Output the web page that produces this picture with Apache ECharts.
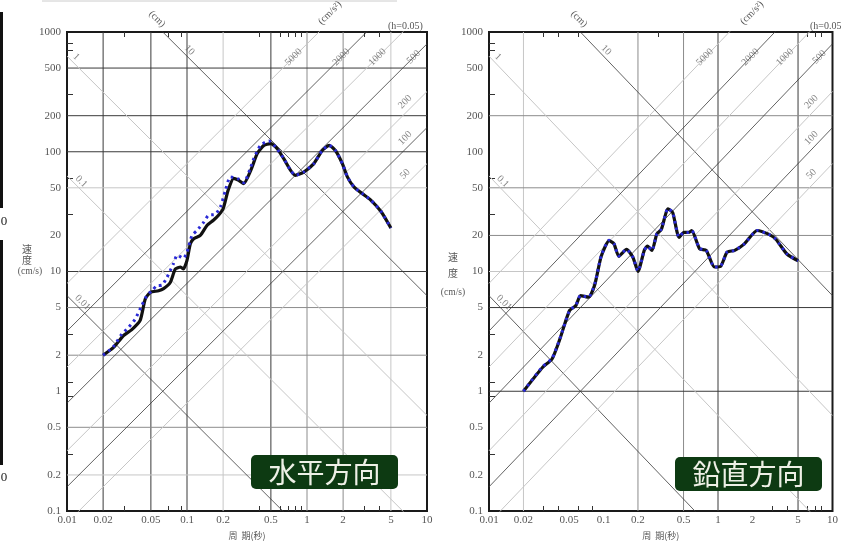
<!DOCTYPE html>
<html>
<head>
<meta charset="utf-8">
<script src="https://cdn.jsdelivr.net/npm/echarts@6/dist/echarts.min.js"></script>
<style>
  html, body { margin: 0; padding: 0; background: #fff; }
  #main { width: 841px; height: 547px; }
</style>
</head>
<body>
<div id="main"></div>
<script>
// ---- axis values ----
var periodLabels = [0.01, 0.02, 0.05, 0.1, 0.2, 0.5, 1, 2, 5, 10];
var velocityLabels = [0.1, 0.2, 0.5, 1, 2, 5, 10, 20, 50, 100, 200, 500, 1000];

// tripartite lines: displacement (cm) and acceleration (cm/s2)
var dispDark = [0.01, 10];
var dispLight = [0.1, 1];
var accDark = [2000, 500, 100];
var accLight = [5000, 1000, 200, 50];
var accTopLabels = [5000, 2000, 1000, 500];
var accSideLabels = [200, 100, 50];
var dispLabels = [1, 10, 0.1, 0.01];

// grid lines, 水平方向 panel
var hVDark = [0.02, 0.05, 0.1, 0.5];
var hVMid = [1, 2];
var hVLight = [0.2, 5];
var hHDark = [500, 200, 100, 10];
var hHMid = [5, 2, 0.5];
var hHLight = [50, 0.2];

// grid lines, 鉛直方向 panel
var vVDark = [1, 5];
var vVMid = [0.2, 0.5];
var vVLight = [0.02];
var vHDark = [5, 1];
var vHMid = [200, 50, 20];
var vHLight = [10];

// minor ticks
var hTicksBottom = [0.03, 0.07, 0.09, 0.4, 0.6, 0.7, 0.8, 0.9, 3, 4];
var vTicksBottom = [0.03, 0.04, 0.06, 0.08, 3, 4, 6, 7, 8];
var hTicksTop = [0.03, 0.07, 0.09, 0.4, 0.6, 0.7, 0.8, 0.9, 3, 4];
var vTicksTop = [0.03, 0.04, 0.06, 0.3, 6, 7, 8];
var yTicks = [800, 700, 300, 60, 30, 3, 1.2, 0.9, 0.3];

// ---- spectra (period s, velocity cm/s) ----
var hPeriod = [0.02, 0.0243, 0.0296, 0.0347, 0.0407, 0.0449, 0.0495, 0.058, 0.0638, 0.0725, 0.08, 0.0884, 0.0934, 0.1, 0.1066, 0.1136, 0.129, 0.147, 0.166, 0.183, 0.2, 0.22, 0.245, 0.27, 0.297, 0.34, 0.385, 0.437, 0.497, 0.565, 0.64, 0.73, 0.8, 0.94, 1.14, 1.34, 1.53, 1.73, 1.97, 2.17, 2.47, 2.9, 3.4, 4.14, 5.0];
var hSolid = [2.0, 2.31, 2.92, 3.27, 3.9, 5.9, 6.7, 6.9, 7.2, 8.1, 10.5, 10.9, 10.5, 12.4, 17.0, 18.8, 20, 24.3, 26.8, 29.5, 33.4, 47.6, 60, 57.6, 54.2, 70, 96.5, 113, 117, 106, 87.6, 70, 63.6, 67.7, 79.6, 102.5, 113, 102, 79.6, 61.7, 50.6, 44.6, 39.5, 31.7, 23.1];
var hDotPeriod = [0.02, 0.0243, 0.0286, 0.0325, 0.037, 0.042, 0.0463, 0.051, 0.056, 0.062, 0.068, 0.077, 0.083, 0.0934, 0.1, 0.11, 0.121, 0.138, 0.151, 0.172, 0.19, 0.209, 0.23, 0.27, 0.297, 0.34, 0.36, 0.41, 0.48, 0.546, 0.64, 0.73, 0.8, 0.94, 1.14, 1.34, 1.53, 1.73, 1.97, 2.17, 2.47, 2.9, 3.4, 4.14, 5.0];
var hDotted = [2.0, 2.35, 3.0, 3.4, 4.0, 5.2, 6.3, 6.9, 7.6, 7.7, 8.9, 11.6, 13.7, 12.9, 14.5, 20, 22, 25.8, 29.5, 30, 34.6, 47.6, 61.7, 59, 55, 74.6, 87.6, 113, 123, 110, 87.6, 70, 63.6, 67.7, 79.6, 102.5, 113, 102, 79.6, 61.7, 50.6, 44.6, 39.5, 31.7, 23.1];

var vPeriod = [0.02, 0.0293, 0.0355, 0.0416, 0.0504, 0.0574, 0.063, 0.074, 0.084, 0.0955, 0.112, 0.1235, 0.136, 0.159, 0.181, 0.2, 0.227, 0.242, 0.265, 0.292, 0.32, 0.366, 0.402, 0.457, 0.504, 0.555, 0.59, 0.69, 0.79, 0.93, 1.05, 1.2, 1.4, 1.7, 2.2, 2.76, 3.2, 4.0, 5.0];
var vSolid = [1.0, 1.58, 1.86, 2.73, 4.7, 5.2, 6.3, 6.1, 7.8, 13.4, 18.1, 17.0, 13.4, 15.3, 13.1, 10.0, 15.0, 16.3, 15.0, 20.5, 22.5, 33.4, 31.1, 19.3, 21.2, 21.2, 22, 15.5, 15.0, 10.9, 11.0, 14.5, 15.0, 17.0, 22, 20.5, 18.6, 14.0, 12.3];
var vDotted = [1.0, 1.6, 1.88, 2.75, 4.7, 5.25, 6.3, 6.1, 7.9, 13.5, 18.2, 17.0, 13.5, 15.3, 13.1, 10.1, 15.0, 16.3, 15.0, 20.6, 22.6, 33.6, 31.1, 19.4, 21.2, 21.2, 22, 15.6, 15.0, 10.9, 11.0, 14.5, 15.0, 17.0, 22, 20.5, 18.6, 14.0, 12.3];

var DARK = '#3a3a3a', MID = '#8c8c8c', LIGHT = '#c6c6c6';
var TWO_PI = 2 * Math.PI;
var SERIF = '"Liberation Serif", "DejaVu Serif", serif';
var CJK = '"Noto Sans CJK JP", sans-serif';

function zip(xs, ys) { return xs.map(function (x, i) { return [x, ys[i]]; }); }

function plain(gi, data, color, width, z) {
  return {
    type: 'line', xAxisIndex: gi, yAxisIndex: gi, data: data, symbol: 'none',
    silent: true, animation: false, z: z,
    lineStyle: { color: color, width: width }
  };
}

function panelSeries(gi, g) {
  var s = [];
  g.vDark.forEach(function (v) { s.push(plain(gi, [[v, 0.1], [v, 1000]], DARK, 1, 1)); });
  g.vMid.forEach(function (v) { s.push(plain(gi, [[v, 0.1], [v, 1000]], MID, 1, 1)); });
  g.vLight.forEach(function (v) { s.push(plain(gi, [[v, 0.1], [v, 1000]], LIGHT, 1, 1)); });
  g.hDark.forEach(function (v) { s.push(plain(gi, [[0.01, v], [10, v]], DARK, 1, 1)); });
  g.hMid.forEach(function (v) { s.push(plain(gi, [[0.01, v], [10, v]], MID, 1, 1)); });
  g.hLight.forEach(function (v) { s.push(plain(gi, [[0.01, v], [10, v]], LIGHT, 1, 1)); });
  // SV = 2*pi*D/T  and  SV = A*T/(2*pi)
  dispDark.forEach(function (d) { s.push(plain(gi, [[0.01, TWO_PI * d / 0.01], [10, TWO_PI * d / 10]], DARK, 0.8, 2)); });
  dispLight.forEach(function (d) { s.push(plain(gi, [[0.01, TWO_PI * d / 0.01], [10, TWO_PI * d / 10]], LIGHT, 1, 2)); });
  accDark.forEach(function (a) { s.push(plain(gi, [[0.01, a * 0.01 / TWO_PI], [10, a * 10 / TWO_PI]], DARK, 0.8, 2)); });
  accLight.forEach(function (a) { s.push(plain(gi, [[0.01, a * 0.01 / TWO_PI], [10, a * 10 / TWO_PI]], LIGHT, 1, 2)); });

  // labels on the diagonal lines
  var lab = [];
  accTopLabels.forEach(function (a) {
    var sv = 706;
    lab.push({ name: String(a), value: [TWO_PI * sv / a, sv], label: { rotate: 45, offset: [-10, 0] } });
  });
  accSideLabels.forEach(function (a) {
    var t = 7.34;
    lab.push({ name: String(a), value: [t, a * t / TWO_PI], label: { rotate: 45, offset: [0, -8] } });
  });
  var dispAt = { '1': 0.011, '10': 0.0966, '0.1': 0.0121, '0.01': 0.0124 };
  dispLabels.forEach(function (d) {
    var t = dispAt[String(d)];
    lab.push({ name: String(d), value: [t, TWO_PI * d / t], label: { rotate: -45, offset: [0, -6] } });
  });
  s.push({
    type: 'scatter', xAxisIndex: gi, yAxisIndex: gi, data: lab, symbolSize: 1,
    itemStyle: { color: 'rgba(0,0,0,0)' }, silent: true, animation: false, z: 3,
    label: { show: true, position: 'inside', formatter: '{b}', fontFamily: SERIF, fontSize: 10, color: '#666' }
  });

  s.push({
    type: 'line', xAxisIndex: gi, yAxisIndex: gi, data: zip(g.period, g.solid), symbol: 'none',
    smooth: 0.2, animation: false, z: 5, lineStyle: { color: '#111', width: 3.2 }
  });
  s.push({
    type: 'line', xAxisIndex: gi, yAxisIndex: gi, data: zip(g.dotPeriod, g.dotted), symbol: 'none',
    smooth: 0.2, animation: false, z: 6, lineStyle: { color: '#2a2ad6', width: 3, type: [2.5, 4] }
  });
  return s;
}

function fmt(v) { return String(+Number(v).toPrecision(4)); }

var grids = [
  { left: 67, top: 32, width: 360, height: 479 },
  { left: 489, top: 32, width: 360, height: 479 }
];

var xAxes = [], yAxes = [];
[0, 1].forEach(function (i) {
  xAxes.push({
    type: 'log', logBase: 10, gridIndex: i, min: 0.01, max: 10, position: 'bottom',
    axisLine: { show: false }, splitLine: { show: false },
    axisTick: { show: true, inside: true, length: 5, customValues: i === 0 ? hTicksBottom : vTicksBottom, lineStyle: { color: '#333' } },
    axisLabel: { customValues: periodLabels, formatter: fmt, margin: 4, fontFamily: SERIF, fontSize: 11, color: '#555' },
    name: '周  期(秒)', nameLocation: 'middle', nameGap: 20,
    nameTextStyle: { fontFamily: CJK, fontSize: 9, color: '#555' }
  });
  xAxes.push({
    type: 'log', logBase: 10, gridIndex: i, min: 0.01, max: 10, position: 'top',
    axisLine: { show: false }, splitLine: { show: false },
    axisTick: { show: true, inside: true, length: 5, customValues: i === 0 ? hTicksTop : vTicksTop, lineStyle: { color: '#333' } },
    axisLabel: { show: false }
  });
  yAxes.push({
    type: 'log', logBase: 10, gridIndex: i, min: 0.1, max: 1000,
    axisLine: { show: false }, splitLine: { show: false },
    axisTick: { show: true, inside: true, length: 6, customValues: yTicks, lineStyle: { color: '#333' } },
    axisLabel: { customValues: velocityLabels, formatter: fmt, margin: 6, fontFamily: SERIF, fontSize: 11, color: '#555' }
  });
});
// bottom axes are 0 and 2; keep the series on those
function remap(list, gi) {
  list.forEach(function (s) { s.xAxisIndex = gi * 2; s.yAxisIndex = gi; });
  return list;
}

var series = remap(panelSeries(0, {
  vDark: hVDark, vMid: hVMid, vLight: hVLight, hDark: hHDark, hMid: hHMid, hLight: hHLight,
  period: hPeriod, solid: hSolid, dotPeriod: hDotPeriod, dotted: hDotted
}), 0).concat(remap(panelSeries(1, {
  vDark: vVDark, vMid: vVMid, vLight: vVLight, hDark: vHDark, hMid: vHMid, hLight: vHLight,
  period: vPeriod, solid: vSolid, dotPeriod: vPeriod, dotted: vDotted
}), 1));

function txt(text, x, y, opts) {
  opts = opts || {};
  return {
    type: 'text', x: x, y: y, rotation: opts.rot || 0, z: 10, silent: true,
    style: {
      text: text, fill: opts.fill || '#555', font: opts.font || ('10px ' + SERIF),
      align: opts.align || 'center', verticalAlign: 'middle'
    }
  };
}

var graphic = [
  { type: 'rect', shape: { x: 0, y: 12, width: 3, height: 196 }, style: { fill: '#111' } },
  { type: 'rect', shape: { x: 0, y: 240, width: 3, height: 225 }, style: { fill: '#111' } },
  txt('0', 4, 222, { font: '13px ' + SERIF, fill: '#222' }),
  txt('0', 4, 478, { font: '13px ' + SERIF, fill: '#222' }),
  { type: 'line', shape: { x1: 42, y1: 1, x2: 397, y2: 1 }, style: { stroke: '#ccc', lineWidth: 1 } },
  // y titles
  txt('速', 27, 249, { font: '10px ' + CJK }),
  txt('度', 27, 260, { font: '10px ' + CJK }),
  txt('(cm/s)', 30, 271, { font: '9.5px ' + SERIF }),
  txt('速', 453, 257, { font: '10px ' + CJK }),
  txt('度', 453, 273, { font: '10px ' + CJK }),
  txt('(cm/s)', 453, 292, { font: '9.5px ' + SERIF })
];
grids.forEach(function (g) {
  var ox = g.left;
  graphic.push(txt('(cm)', ox + 90, 19, { rot: -Math.PI / 4 }));
  graphic.push(txt('(cm/s²)', ox + 263, 13, { rot: Math.PI / 4 }));
  graphic.push(txt('(h=0.05)', ox + 321, 26, { align: 'left' }));
});
[['水平方向', 251, 455], ['鉛直方向', 675, 457]].forEach(function (b) {
  graphic.push({
    type: 'rect', shape: { x: b[1], y: b[2], width: 147, height: 34, r: 5 }, z: 20,
    style: { fill: '#0d3a12' }
  });
  graphic.push({
    type: 'text', x: b[1] + 73.5, y: b[2] + 17.5, z: 21,
    style: { text: b[0], fill: '#eef0e6', font: '28px ' + CJK, align: 'center', verticalAlign: 'middle' }
  });
});

var chart = echarts.init(document.getElementById('main'));
chart.setOption({
  backgroundColor: '#fff',
  animation: false,
  grid: grids.map(function (g) {
    return { left: g.left, top: g.top, width: g.width, height: g.height, show: true, borderColor: '#1a1a1a', borderWidth: 2 };
  }),
  xAxis: xAxes,
  yAxis: yAxes,
  series: series,
  graphic: graphic
});
</script>
</body>
</html>
